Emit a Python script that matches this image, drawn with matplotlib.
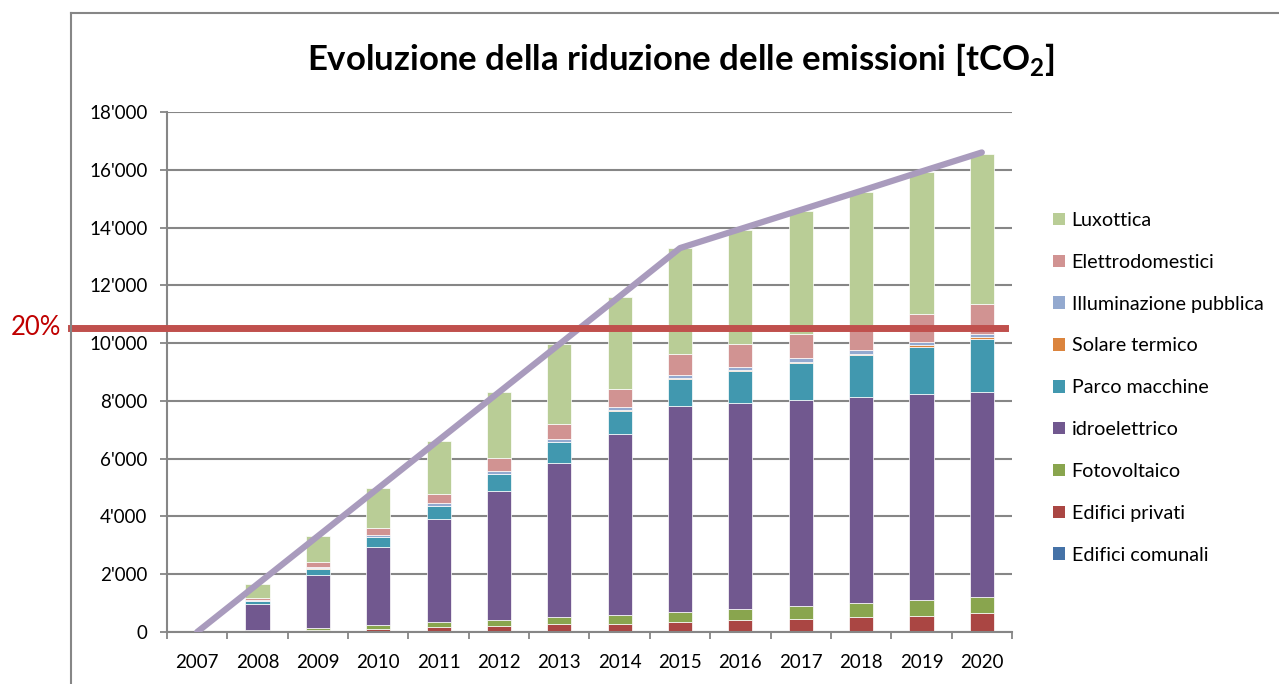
import numpy as np
import matplotlib
matplotlib.use("Agg")
import matplotlib.pyplot as plt
from matplotlib.lines import Line2D
from matplotlib.patches import Patch
from matplotlib.ticker import FuncFormatter

plt.rcParams['font.family'] = ['Lato', 'DejaVu Sans']
plt.rcParams['mathtext.fontset'] = 'custom'
plt.rcParams['mathtext.rm'] = 'Lato'
plt.rcParams['mathtext.bf'] = 'Lato:bold'

anni = ['2007', '2008', '2009', '2010', '2011', '2012', '2013',
        '2014', '2015', '2016', '2017', '2018', '2019', '2020']

# riduzione per settore [tCO2]
edifici_comunali = [0, 5, 8, 10, 12, 15, 20, 22, 25, 28, 30, 32, 35, 38]
edifici_privati = [0, 15, 50, 106, 151, 183, 247, 272, 304, 372, 429, 474, 530, 609]
fotovoltaico = [0, 60, 82, 128, 186, 232, 256, 306, 353, 400, 435, 494, 529, 553]
idroelettrico = [0, 873, 1817, 2701, 3573, 4457, 5329, 6262, 7144, 7130, 7139, 7136, 7134, 7120]
parco_macchine = [0, 116, 241, 333, 436, 574, 713, 793, 930, 1102, 1274, 1447, 1653, 1837]
solare_termico = [0, 5, 8, 12, 15, 18, 20, 25, 28, 32, 36, 40, 45, 55]
illuminazione = [0, 30, 30, 60, 85, 95, 105, 115, 120, 125, 125, 135, 118, 118]
elettrodomestici = [0, 81, 171, 241, 322, 437, 505, 608, 712, 770, 838, 884, 964, 1010]
luxottica = [0, 465, 919, 1379, 1826, 2287, 2758, 3192, 3662, 3972, 4270, 4589, 4902, 5223]

totale = [0, 1660, 3320, 4980, 6640, 8300, 9960, 11620, 13290, 13950, 14610, 15270, 15940, 16600]
soglia_20 = 10530

serie = [
    ('Edifici comunali', edifici_comunali, '#4572A7'),
    ('Edifici privati', edifici_privati, '#AA4643'),
    ('Fotovoltaico', fotovoltaico, '#89A54E'),
    ('idroelettrico', idroelettrico, '#71588F'),
    ('Parco macchine', parco_macchine, '#4198AF'),
    ('Solare termico', solare_termico, '#DB843D'),
    ('Illuminazione pubblica', illuminazione, '#93A9CF'),
    ('Elettrodomestici', elettrodomestici, '#D19392'),
    ('Luxottica', luxottica, '#B9CD96'),
]

W, H = 1279, 684
fig = plt.figure(figsize=(W / 100, H / 100), dpi=100)
ax = fig.add_axes([167 / W, 1 - 632 / H, (1012 - 167) / W, (632 - 112) / H])

x = np.arange(len(anni))
base = np.zeros(len(anni))
for nome, valori, colore in serie:
    ax.bar(x, valori, width=0.4, bottom=base, color=colore,
           edgecolor='white', linewidth=0.5, zorder=2)
    base += np.array(valori)

ax.plot(x, totale, color='#A99BBD', lw=4.5, solid_capstyle='round', zorder=3)
ax.axhline(soglia_20, xmin=(71 - 167) / (1012 - 167), xmax=(1005 - 167) / (1012 - 167),
           color='#C0504D', lw=5, clip_on=False, zorder=4)
ax.text((61 - 167) / (1012 - 167), soglia_20, '20%', color='#C00000', fontsize=18.5,
        ha='right', va='center', transform=ax.get_yaxis_transform())

ax.set_xlim(-0.5, len(anni) - 0.5)
ax.set_ylim(0, 18000)
ax.set_yticks(np.arange(0, 18001, 2000))
ax.yaxis.set_major_formatter(FuncFormatter(
    lambda v, p: '0' if v == 0 else "{:,}".format(int(v)).replace(',', "'")))
ax.set_xticks(x)
ax.set_xticklabels(anni)
ax.set_xticks(np.arange(-0.5, len(anni), 1), minor=True)
ax.tick_params(axis='x', which='major', length=0, pad=16, labelsize=13.5)
ax.tick_params(axis='x', which='minor', length=5, width=1.3, color='#868686')
ax.tick_params(axis='y', length=5, width=1.3, color='#868686', pad=9, labelsize=13.5)

ax.grid(axis='y', color='#868686', lw=1.5, zorder=0)
ax.set_axisbelow(True)
for lato in ['top', 'right']:
    ax.spines[lato].set_visible(False)
for lato in ['left', 'bottom']:
    ax.spines[lato].set_color('#868686')
    ax.spines[lato].set_linewidth(1.5)

fig.text(681 / W, 1 - 60 / H, 'Evoluzione della riduzione delle emissioni [tCO$_\\mathbf{2}$]',
         fontsize=25, fontweight='bold', ha='center', va='center')

maniglie = [Patch(facecolor=c, edgecolor='none') for _, _, c in serie][::-1]
etichette = [n for n, _, _ in serie][::-1]
fig.legend(maniglie, etichette, loc='upper left', bbox_to_anchor=(1045 / W, 1 - 204 / H),
           frameon=False, fontsize=14.2, handlelength=0.6, handleheight=0.6,
           handletextpad=0.35, labelspacing=1.26, borderaxespad=0)

# cornice del grafico
fig.add_artist(Line2D([71 / W, 71 / W], [0, 1 - 13 / H], color='#868686', lw=1.5))
fig.add_artist(Line2D([71 / W, 1], [1 - 13 / H, 1 - 13 / H], color='#868686', lw=1.5))

fig.savefig('out.png', dpi=100)
